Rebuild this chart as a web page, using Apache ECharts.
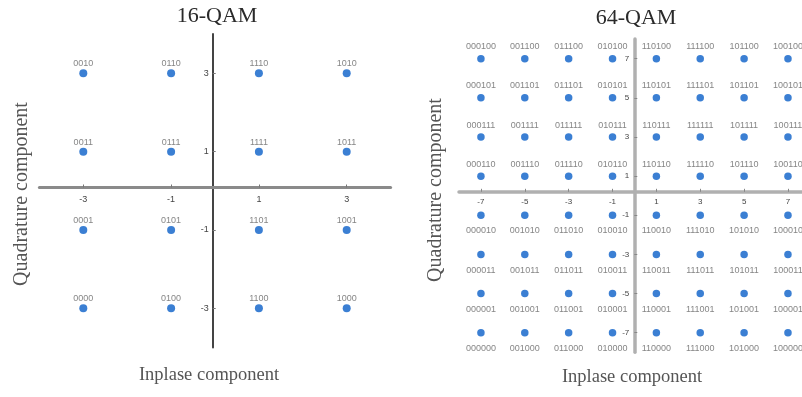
<!DOCTYPE html>
<html>
<head>
<meta charset="utf-8">
<script src="https://cdn.jsdelivr.net/npm/echarts@6/dist/echarts.min.js"></script>
<style>html,body{margin:0;padding:0;background:#fff}#c{width:802px;height:397px}</style>
</head>
<body>
<div id="c"></div>
<script>
// ---- 16-QAM data ----
const iLevels16 = [-3, -1, 1, 3];
const qLevels16 = [3, 1, -1, -3];
const labels16 = [
  ['0010', '0110', '1110', '1010'],
  ['0011', '0111', '1111', '1011'],
  ['0001', '0101', '1101', '1001'],
  ['0000', '0100', '1100', '1000']
];
const xTicks16 = [-3, -1, 1, 3];
const xTickLabels16 = ['-3', '-1', '1', '3'];
const yTicks16 = [3, 1, -1, -3];
const yTickLabels16 = ['3', '1', '-1', '-3'];

// ---- 64-QAM data ----
const iLevels64 = [-7, -5, -3, -1, 1, 3, 5, 7];
const qLevels64 = [7, 5, 3, 1, -1, -3, -5, -7];
const labels64 = [
  ['000100', '001100', '011100', '010100', '110100', '111100', '101100', '100100'],
  ['000101', '001101', '011101', '010101', '110101', '111101', '101101', '100101'],
  ['000111', '001111', '011111', '010111', '110111', '111111', '101111', '100111'],
  ['000110', '001110', '011110', '010110', '110110', '111110', '101110', '100110'],
  ['000010', '001010', '011010', '010010', '110010', '111010', '101010', '100010'],
  ['000011', '001011', '011011', '010011', '110011', '111011', '101011', '100011'],
  ['000001', '001001', '011001', '010001', '110001', '111001', '101001', '100001'],
  ['000000', '001000', '011000', '010000', '110000', '111000', '101000', '100000']
];
const xTicks64 = [-7, -5, -3, -1, 1, 3, 5, 7];
const xTickLabels64 = ['-7', '-5', '-3', '-1', '1', '3', '5', '7'];
const yTicks64 = [7, 5, 3, 1, -1, -3, -5, -7];
const yTickLabels64 = ['7', '5', '3', '1', '-1', '-3', '-5', '-7'];

const titles = ['16-QAM', '64-QAM'];
const xName = 'Inplase component';
const yName = 'Quadrature component';

// ---- build point lists ----
function buildPoints(iL, qL, labs, filter) {
  const out = [];
  qL.forEach((q, r) => {
    iL.forEach((i, c) => {
      if (filter(q)) out.push([i, q, labs[r][c]]);
    });
  });
  return out;
}
const pts16 = buildPoints(iLevels16, qLevels16, labels16, () => true);
const pts64Up = buildPoints(iLevels64, qLevels64, labels64, q => q > 0);
const pts64Down = buildPoints(iLevels64, qLevels64, labels64, q => q < 0);

const DOT = '#0a5fc8';
const SERIF = 'Liberation Serif';
const SANS = 'Liberation Sans';

function lookup(ticks, labels) {
  return v => { const k = ticks.findIndex(t => Math.abs(t - v) < 1e-9); return k >= 0 ? labels[k] : ''; };
}

const chart = echarts.init(document.getElementById('c'), null, {renderer: 'canvas'});
chart.setOption({
  backgroundColor: '#fff',
  animation: false,
  grid: [
    {left: 39.4, right: 411.4, top: 34.1, bottom: 49.5},
    {left: 459, right: 0, top: 39.1, bottom: 44.7}
  ],
  xAxis: [
    {
      type: 'value', gridIndex: 0, min: -4, max: 4, position: 'bottom', offset: -160,
      axisLine: {show: true, onZero: false, lineStyle: {color: '#8a8a8a', width: 3}},
      axisTick: {show: true, inside: true, length: 3, customValues: xTicks16, lineStyle: {color: '#777'}},
      axisLabel: {show: true, customValues: xTicks16, formatter: lookup(xTicks16, xTickLabels16), margin: 8, fontSize: 9, fontFamily: SANS, color: '#444'},
      splitLine: {show: false}
    },
    {
      type: 'value', gridIndex: 1, min: -8, max: 7.64, position: 'bottom', offset: -160.5,
      axisLine: {show: true, onZero: false, lineStyle: {color: '#b0b0b0', width: 3.5}},
      axisTick: {show: true, inside: true, length: 3, customValues: xTicks64, lineStyle: {color: '#888'}},
      axisLabel: {show: true, customValues: xTicks64, formatter: lookup(xTicks64, xTickLabels64), margin: 6, fontSize: 8, fontFamily: SANS, color: '#444'},
      splitLine: {show: false}
    }
  ],
  yAxis: [
    {
      type: 'value', gridIndex: 0, min: -4, max: 4, position: 'left', offset: -173.3,
      axisLine: {show: true, onZero: false, lineStyle: {color: '#444', width: 2}},
      axisTick: {show: true, inside: true, length: 3, customValues: yTicks16, lineStyle: {color: '#777'}},
      axisLabel: {show: true, customValues: yTicks16, formatter: lookup(yTicks16, yTickLabels16), margin: 4, fontSize: 9, fontFamily: SANS, color: '#444'},
      splitLine: {show: false}
    },
    {
      type: 'value', gridIndex: 1, min: -8, max: 8, position: 'left', offset: -175.3,
      axisLine: {show: true, onZero: false, lineStyle: {color: '#b0b0b0', width: 3.5}},
      axisTick: {show: true, inside: true, length: 3, customValues: yTicks64, lineStyle: {color: '#888'}},
      axisLabel: {show: true, customValues: yTicks64, formatter: lookup(yTicks64, yTickLabels64), margin: 5, fontSize: 8, fontFamily: SANS, color: '#444'},
      splitLine: {show: false}
    }
  ],
  series: [
    {
      type: 'scatter', xAxisIndex: 0, yAxisIndex: 0, data: pts16,
      symbolSize: 8, itemStyle: {color: DOT},
      label: {show: true, position: 'top', distance: 1, formatter: p => p.data[2], fontSize: 9, fontFamily: SANS, color: '#666'}
    },
    {
      type: 'scatter', xAxisIndex: 1, yAxisIndex: 1, data: pts64Up,
      symbolSize: 7.5, itemStyle: {color: DOT},
      label: {show: true, position: 'top', distance: 3.7, formatter: p => p.data[2], fontSize: 9, fontFamily: SANS, color: '#666'}
    },
    {
      type: 'scatter', xAxisIndex: 1, yAxisIndex: 1, data: pts64Down,
      symbolSize: 7.5, itemStyle: {color: DOT},
      label: {show: true, position: 'bottom', distance: 7.4, formatter: p => p.data[2], fontSize: 9, fontFamily: SANS, color: '#666'}
    }
  ],
  graphic: [
    {type: 'text', x: 217, y: 16, style: {text: titles[0], fontFamily: SERIF, fontSize: 22, fill: '#2a2a2a', align: 'center', verticalAlign: 'middle'}},
    {type: 'text', x: 636, y: 18, style: {text: titles[1], fontFamily: SERIF, fontSize: 22, fill: '#2a2a2a', align: 'center', verticalAlign: 'middle'}},
    {type: 'text', x: 22, y: 194, rotation: Math.PI / 2, style: {text: yName, fontFamily: SERIF, fontSize: 20, fill: '#555', align: 'center', verticalAlign: 'middle'}},
    {type: 'text', x: 436, y: 190, rotation: Math.PI / 2, style: {text: yName, fontFamily: SERIF, fontSize: 20, fill: '#555', align: 'center', verticalAlign: 'middle'}},
    {type: 'text', x: 209, y: 375, style: {text: xName, fontFamily: SERIF, fontSize: 18.5, fill: '#555', align: 'center', verticalAlign: 'middle'}},
    {type: 'text', x: 632, y: 377, style: {text: xName, fontFamily: SERIF, fontSize: 18.5, fill: '#555', align: 'center', verticalAlign: 'middle'}}
  ]
});
</script>
</body>
</html>
